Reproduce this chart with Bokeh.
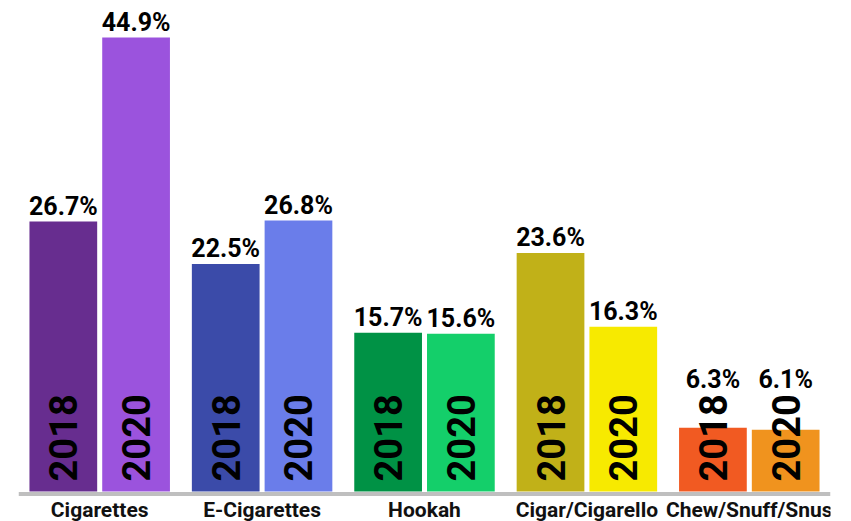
import math
from bokeh.plotting import figure
from bokeh.models import ColumnDataSource, FactorRange, Range1d, Span
from bokeh.transform import dodge
from bokeh.core.properties import value
from bokeh.embed import file_html
from bokeh.resources import INLINE

categories = ["Cigarettes", "E-Cigarettes", "Hookah", "Cigar/Cigarello", "Chew/Snuff/Snus"]
years = ["2018", "2020"]
v2018 = [26.7, 22.5, 15.7, 23.6, 6.3]
v2020 = [44.9, 26.8, 15.6, 16.3, 6.1]
colors2018 = ["#672d8f", "#3b4ba9", "#009245", "#c1b118", "#f15a22"]
colors2020 = ["#9b53dd", "#6a7dea", "#14cf6a", "#f7ea00", "#f0931e"]

FONT = "Roboto"
YEAR_ZONE = 9.5  # value labels never sit lower than the rotated year text

p = figure(width=835, height=521, output_backend="svg", toolbar_location=None,
           x_range=FactorRange(*categories, range_padding=0),
           y_range=Range1d(-2.97, 48.57),
           min_border_left=18, min_border_right=5, min_border_top=0, min_border_bottom=0)

bar_w = 0.417
off = 0.224

for yr, vals, cols, sign in [(years[0], v2018, colors2018, -1), (years[1], v2020, colors2020, 1)]:
    src = ColumnDataSource(dict(cat=categories, val=vals, color=cols,
                                label=[f"{v}%" for v in vals],
                                label_y=[max(v, YEAR_ZONE) for v in vals],
                                year=[yr] * len(categories),
                                zero=[0] * len(categories)))
    xx = dodge("cat", sign * off, range=p.x_range)
    p.vbar(x=xx, top="val", width=bar_w, fill_color="color", line_color=None, source=src)
    p.text(x=xx, y="zero", text="year", angle=math.pi / 2, text_align="left",
           text_baseline="middle", y_offset=-10, text_font=value(FONT),
           text_font_style="bold", text_font_size="38px", text_color="#000000", source=src)
    p.text(x=xx, y="label_y", text="label", text_align="center", text_baseline="bottom",
           y_offset=-1, text_font=value(FONT), text_font_style="bold",
           text_font_size="25px", text_color="#000000", source=src)

p.add_layout(Span(location=-0.25, dimension="width", line_color="#bfbfbf", line_width=4))

cat_src = ColumnDataSource(dict(cat=categories, zero=[0] * len(categories)))
p.text(x="cat", y="zero", text="cat", text_align="center", text_baseline="top",
       y_offset=7, text_font=value(FONT), text_font_style="bold",
       text_font_size="21px", text_color="#111111", source=cat_src)

p.outline_line_color = None
p.xgrid.visible = False
p.ygrid.visible = False
p.xaxis.visible = False
p.yaxis.visible = False

open("out.html", "w").write(file_html(p, INLINE))
